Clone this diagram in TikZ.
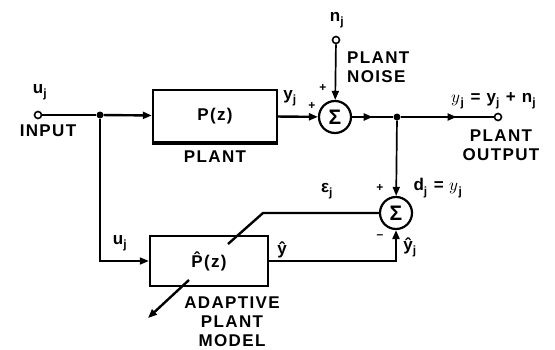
\documentclass[tikz,border=0pt]{standalone}
\usepackage{unicode-math}
\setmainfont{Liberation Sans}[LetterSpace=8]
\usetikzlibrary{arrows.meta,decorations.markings}

\begin{document}
\begin{tikzpicture}[x=1pt,y=-1pt,
  wire/.style={line width=2.4pt},
  thinwire/.style={line width=1.7pt},
  block/.style={draw,line width=2.4pt,minimum width=124pt,minimum height=52pt,inner sep=0pt,font=\fontsize{17}{19}\selectfont\bfseries},
  summer/.style={draw,circle,line width=2.2pt,minimum size=32pt,inner sep=0pt,font=\fontsize{21}{21}\selectfont\bfseries},
  term/.style={draw,circle,line width=1.6pt,minimum size=7pt,inner sep=0pt,fill=white},
  dot/.style={circle,fill,minimum size=7pt,inner sep=0pt},
  lbl/.style={font=\fontsize{17}{19}\selectfont\bfseries,align=center,inner sep=1pt},
  sgn/.style={font=\fontsize{12}{12}\selectfont\bfseries,inner sep=1pt},
  tip/.style={-{Triangle[length=9pt,width=7pt]}},
  midarrow/.style={postaction={decorate},decoration={markings,mark=at position #1 with {\arrow{Triangle[length=9pt,width=7pt]}}}}
]
\useasboundingbox (0,0) rectangle (555,349);

% blocks and junctions
\node[term] (in) at (38,115) {};
\node[dot] (ja) at (100,115) {};
\node[block] (plant) at (215,116) {P(z)};
\draw[line width=4pt] (plant.south west) -- (plant.south east);
\node[summer] (suma) at (335,117) {Σ};
\node[term] (noise) at (336,40) {};
\node[dot] (jb) at (397,117) {};
\node[term] (out) at (498,117) {};
\node[summer] (sumb) at (396,213) {Σ};
\node[block,minimum width=118pt,minimum height=50pt] (model) at (209,261) {\^{P}(z)};

\coordinate (kink) at (263,213);
\coordinate (ain) at (228,244);
\coordinate (aout) at (189,280);
\coordinate (adapt) at (148,318);

% connectors
\draw[wire] (in) -- (ja);
\draw[wire,tip] (ja) -- (plant);
\draw[wire,tip] (plant) -- (suma);
\draw[thinwire,tip] (noise) -- (suma);
\draw[wire,midarrow=0.5] (suma) -- (jb);
\draw[wire,midarrow=0.6] (jb) -- (out);
\draw[thinwire,tip] (jb) -- (sumb);
\draw[thinwire,tip] (ja) |- (model);
\draw[wire,tip] (model) -| (sumb);
\draw[wire] (sumb) -- (kink) -- (ain);
\draw[wire,tip] (aout) -- (adapt);

% labels
\node[lbl] (uin) at (40,92) {u\textsubscript{j}};
\node[lbl] (inlbl) at (48,131) {INPUT};
\node[lbl] (plantlbl) at (215,157) {PLANT};
\node[lbl] (ylbl) at (290,98) {y\textsubscript{j}};
\node[sgn] (pa) at (312,106) {+};
\node[sgn] (pb) at (323,88) {+};
\node[lbl] (nlbl) at (337,20) {n\textsubscript{j}};
\node[lbl,align=left,anchor=west] (noiselbl) at (346,67) {PLANT\\NOISE};
\node[lbl] (eqlbl) at (494,101) {$\symbfscr{y}$\textsubscript{j} = y\textsubscript{j} + n\textsubscript{j}};
\node[lbl] (outlbl) at (501,145) {PLANT\\OUTPUT};
\node[sgn] (pc) at (380,188) {+};
\node[lbl] (dlbl) at (438,188) {d\textsubscript{j} = $\symbfscr{y}$\textsubscript{j}};
\node[lbl] (elbl) at (327,191) {ε\textsubscript{j}};
\node[sgn] (mc) at (380,237) {–};
\node[lbl] (yhj) at (410,247) {ŷ\textsubscript{j}};
\node[lbl] (yh) at (282,250) {ŷ};
\node[lbl] (ulow) at (120,243) {u\textsubscript{j}};
\node[lbl] (modellbl) at (232,322) {ADAPTIVE\\PLANT\\MODEL};
\end{tikzpicture}
\end{document}
